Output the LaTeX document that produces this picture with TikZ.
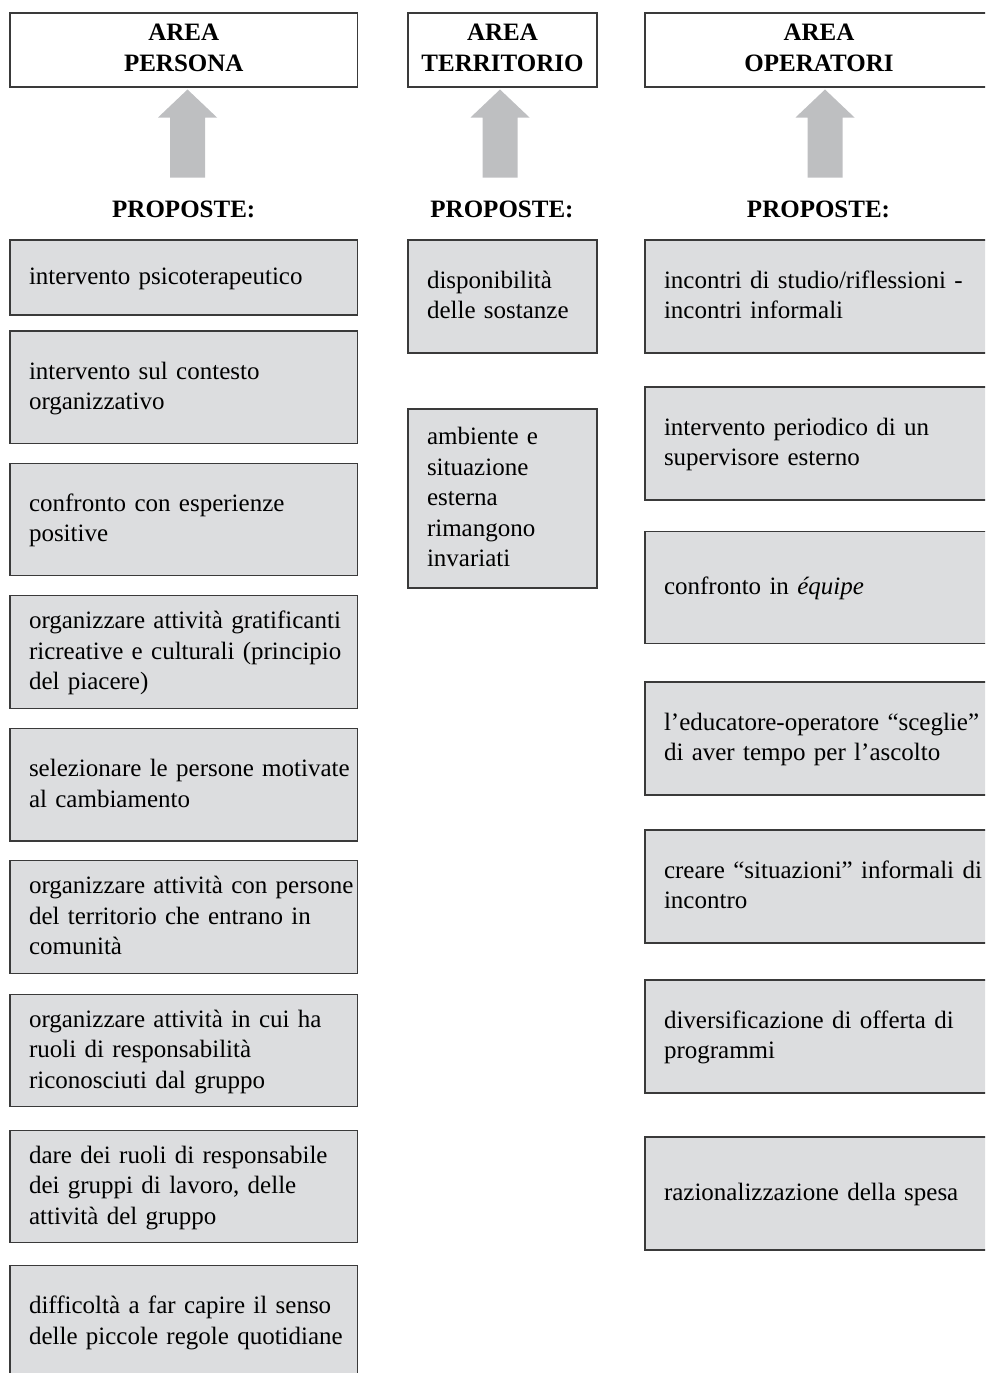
\documentclass[tikz,border=0pt]{standalone}
\usepackage{fontspec}
\setmainfont{Liberation Serif}
\usetikzlibrary{calc}

\definecolor{boxfill}{HTML}{DCDDDF}
\definecolor{edgegray}{HTML}{3A3A3A}
\definecolor{arrowfill}{HTML}{BEBFC1}

% strut that keeps every text line the same height, slightly below centre
\newcommand\pstrut{\rule[-8.25pt]{0pt}{30.5pt}}

\tikzset{
  header/.style={draw=edgegray, line width=1.3pt, fill=white,
    minimum height=74pt, inner sep=0pt},
  headertext/.style={align=center, inner sep=0pt,
    font=\fontsize{25}{31}\bfseries\selectfont},
  proptitle/.style={inner sep=0pt, anchor=base,
    font=\fontsize{25}{30}\bfseries\selectfont},
  propbox/.style={draw=edgegray, line width=1.3pt, fill=boxfill,
    inner xsep=0pt, inner ysep=2pt, align=left,
    font=\fontsize{25}{30.5}\selectfont,
    execute at begin node={\leftskip=19pt\relax\pstrut},
    execute at end node={\pstrut}},
  colP/.style={propbox, text width=347.5pt},
  colT/.style={propbox, text width=189pt},
  colO/.style={propbox, text width=348pt},
  blockarrow/.style={fill=arrowfill, draw=none},
}

% thick upward arrow with its tip at the given coordinate
\newcommand\uparrowfrom[1]{%
  \path[blockarrow] (#1) -- ++(29.5,28) -- ++(-12,0) -- ++(0,60)
    -- ++(-35,0) -- ++(0,-60) -- ++(-12,0) -- cycle;}

\begin{document}
\begin{tikzpicture}[x=1pt, y=-1pt]
\useasboundingbox (0,0) rectangle (985,1373);
\clip (0,0) rectangle (985,1373);

% column headers
\node[header, minimum width=347.5pt] (hP) at (183.75,50) {};
\node[header, minimum width=189pt]   (hT) at (502.5,50)  {};
\node[header, minimum width=348pt]   (hO) at (819,50)    {};
\node[headertext] (lP) at ([yshift=2pt]hP.center) {AREA\\PERSONA};
\node[headertext] (lT) at ([yshift=2pt]hT.center) {AREA\\TERRITORIO};
\node[headertext] (lO) at ([yshift=2pt]hO.center) {AREA\\OPERATORI};

% arrows pointing up to the headers
\coordinate (aP) at (187.5,89.5);
\coordinate (aT) at (500,89.5);
\coordinate (aO) at (825,89.5);
\uparrowfrom{aP}
\uparrowfrom{aT}
\uparrowfrom{aO}

% section titles
\node[proptitle] (tP) at (183.75,217) {PROPOSTE:};
\node[proptitle] (tT) at (502,217)    {PROPOSTE:};
\node[proptitle] (tO) at (818.5,217)  {PROPOSTE:};

% AREA PERSONA
\node[colP, minimum height=75pt]    (p1) at (183.75,277.5)  {intervento psicoterapeutico};
\node[colP, minimum height=112.5pt] (p2) at (183.75,387.25) {intervento sul contesto\\organizzativo};
\node[colP, minimum height=112.5pt] (p3) at (183.75,519.5)  {confronto con esperienze\\positive};
\node[colP, minimum height=112.5pt] (p4) at (183.75,652)    {organizzare attività gratificanti\\ricreative e culturali (principio\\del piacere)};
\node[colP, minimum height=112.5pt] (p5) at (183.75,784.75) {selezionare le persone motivate\\al cambiamento};
\node[colP, minimum height=112.5pt] (p6) at (183.75,917)    {organizzare attività con persone\\del territorio che entrano in\\comunità};
\node[colP, minimum height=112.5pt] (p7) at (183.75,1050.5) {organizzare attività in cui ha\\ruoli di responsabilità\\riconosciuti dal gruppo};
\node[colP, minimum height=112.5pt] (p8) at (183.75,1186.5) {dare dei ruoli di responsabile\\dei gruppi di lavoro, delle\\attività del gruppo};
\node[colP, minimum height=112.5pt] (p9) at (183.75,1322)   {difficoltà a far capire il senso\\delle piccole regole quotidiane};

% AREA TERRITORIO
\node[colT, minimum height=113pt] (t1) at (502.5,296.5) {disponibilità\\delle sostanze};
\node[colT, minimum height=179pt] (t2) at (502.5,498.5) {ambiente e\\situazione\\esterna\\rimangono\\invariati};

% AREA OPERATORI
\node[colO, minimum height=113pt] (o1) at (819,296.5)  {incontri di studio/riflessioni -\\incontri informali};
\node[colO, minimum height=113pt] (o2) at (819,443.5)  {intervento periodico di un\\supervisore esterno};
\node[colO, minimum height=112pt] (o3) at (819,587.5)  {confronto in \textit{équipe}};
\node[colO, minimum height=113pt] (o4) at (819,738.5)  {l’educatore-operatore “sceglie”\\di aver tempo per l’ascolto};
\node[colO, minimum height=113pt] (o5) at (819,886.5)  {creare “situazioni” informali di\\incontro};
\node[colO, minimum height=113pt] (o6) at (819,1036.5) {diversificazione di offerta di\\programmi};
\node[colO, minimum height=113pt] (o7) at (819,1193.5) {razionalizzazione della spesa};
\end{tikzpicture}
\end{document}
